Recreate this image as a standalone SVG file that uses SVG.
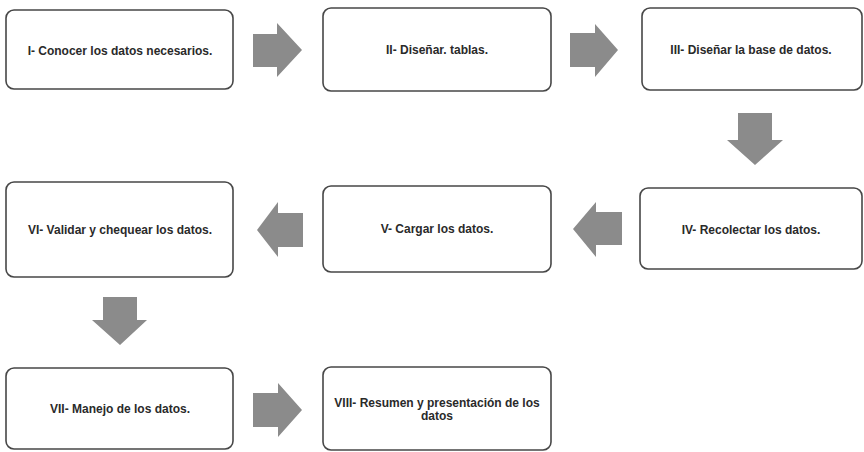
<svg xmlns="http://www.w3.org/2000/svg" width="864" height="452" viewBox="0 0 864 452">
<style>
.box{fill:#fff;stroke:#474747;stroke-width:1.6}
.lbl{font-family:"Liberation Sans",Arial,sans-serif;font-size:12px;font-weight:bold;fill:#2a2a2a;text-anchor:middle;dominant-baseline:central}
.arr{fill:#8b8b8b}
</style>
<rect width="864" height="452" fill="#fff"/>
<g id="connectors">
<path class="arr" d="M253,34 H277 V23 L302,50 L277,77 V67 H253 Z"/>
<path class="arr" d="M570,33 H595 V24 L618,50 L595,77 V67 H570 Z"/>
<path class="arr" d="M738,113 H772 V140 H783 L755,165 L727,140 H738 Z"/>
<path class="arr" d="M622,212 V245 H596 V257 L573,229 L596,202 V212 Z"/>
<path class="arr" d="M303,213 V247 H278 V257 L257,230 L278,202 V213 Z"/>
<path class="arr" d="M103,297 H137 V320 H147 L120,345 L92,320 H103 Z"/>
<path class="arr" d="M253,393 H278 V383 L302,410 L278,437 V427 H253 Z"/>
</g>
<g id="n1"><rect class="box" x="6" y="10" width="227" height="79" rx="8"/><text class="lbl" x="120" y="51">I- Conocer los datos necesarios.</text></g>
<g id="n2"><rect class="box" x="323" y="8" width="228" height="83" rx="8"/><text class="lbl" x="437" y="50">II- Diseñar. tablas.</text></g>
<g id="n3"><rect class="box" x="642" y="8" width="220" height="82" rx="8"/><text class="lbl" x="751" y="50">III- Diseñar la base de datos.</text></g>
<g id="n4"><rect class="box" x="640" y="188" width="222" height="81" rx="8"/><text class="lbl" x="751" y="230">IV- Recolectar los datos.</text></g>
<g id="n5"><rect class="box" x="323" y="186" width="228" height="86" rx="8"/><text class="lbl" x="437" y="229">V- Cargar los datos.</text></g>
<g id="n6"><rect class="box" x="6" y="182" width="227" height="95" rx="8"/><text class="lbl" x="120" y="230">VI- Validar y chequear los datos.</text></g>
<g id="n7"><rect class="box" x="6" y="368" width="227" height="81" rx="8"/><text class="lbl" x="120" y="409">VII- Manejo de los datos.</text></g>
<g id="n8"><rect class="box" x="323" y="367" width="228" height="83" rx="8"/><text class="lbl" x="437" y="403">VIII- Resumen y presentación de los</text><text class="lbl" x="437" y="416">datos</text></g>
</svg>
